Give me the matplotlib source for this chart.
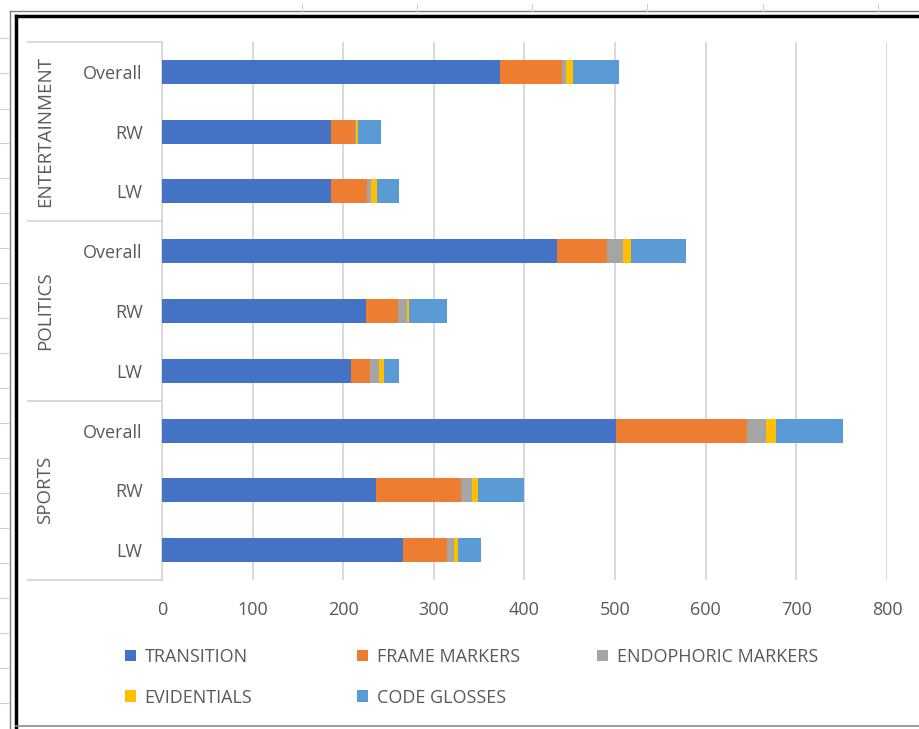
import matplotlib.pyplot as plt
from matplotlib.lines import Line2D

plt.rcParams['font.family'] = ['Open Sans', 'DejaVu Sans']

# Counts per section and orientation, listed top row first
groups = ['ENTERTAINMENT', 'POLITICS', 'SPORTS']
rows = ['Overall', 'RW', 'LW'] * 3
transition = [373, 187, 186, 436, 225, 209, 501, 236, 266]
frame_markers = [68, 26, 40, 55, 35, 21, 144, 94, 49]
endophoric = [5, 1, 5, 18, 10, 9, 21, 12, 7]
evidentials = [7, 2, 6, 9, 3, 6, 11, 7, 5]
code_glosses = [51, 26, 24, 60, 42, 17, 75, 51, 25]

series = [
    ('TRANSITION', transition, '#4472C4'),
    ('FRAME MARKERS', frame_markers, '#ED7D31'),
    ('ENDOPHORIC MARKERS', endophoric, '#A5A5A5'),
    ('EVIDENTIALS', evidentials, '#FFC000'),
    ('CODE GLOSSES', code_glosses, '#5B9BD5'),
]

txt = '#595959'
grid = '#d9d9d9'

W, H = 920, 729
fig = plt.figure(figsize=(W / 100, H / 100), dpi=100)
ax = fig.add_axes([162 / W, 1 - 580 / H, 725 / W, 538 / H])

ypos = list(range(len(rows)))
left = [0] * len(rows)
handles = {}
for name, vals, col in series:
    b = ax.barh(ypos, vals, left=left, height=0.4, color=col, label=name, zorder=3)
    handles[name] = b
    left = [l + v for l, v in zip(left, vals)]

ax.set_xlim(0, 800)
ax.set_ylim(8.5, -0.5)
ax.set_xticks(range(0, 801, 100))
ax.set_yticks(ypos)
ax.set_yticklabels(rows)
ax.tick_params(axis='x', length=0, pad=15, labelsize=13, labelcolor=txt)
ax.tick_params(axis='y', length=0, pad=14, labelsize=13, labelcolor=txt)
ax.grid(axis='x', color=grid, lw=1.4, zorder=0)
for s in ['top', 'right', 'bottom']:
    ax.spines[s].set_visible(False)
ax.spines['left'].set_color(grid)
ax.spines['left'].set_linewidth(1.4)

# multi-level category axis: separators and rotated group names
tr = ax.get_yaxis_transform()
box_x = (28 - 162) / 725
for yb in [-0.5, 2.5, 5.5, 8.5]:
    ax.plot([box_x, 0], [yb, yb], color=grid, lw=1.4, transform=tr, clip_on=False)
lab_x = (45 - 162) / 725
for i, g in enumerate(groups):
    ax.text(lab_x, 3 * i + 1, g, rotation=90, ha='center', va='center',
            fontsize=13.5, color=txt, transform=tr)

# legend laid out in three fixed columns
cols = [(133, ['TRANSITION', 'EVIDENTIALS']),
        (365, ['FRAME MARKERS', 'CODE GLOSSES']),
        (605, ['ENDOPHORIC MARKERS'])]
for x, names in cols:
    leg = fig.legend([handles[n] for n in names], names, loc='upper left',
                     bbox_to_anchor=(x / W - 0.009, 1 - 648 / H), frameon=False,
                     fontsize=13, labelcolor=txt, handlelength=0.6, handleheight=0.6,
                     handletextpad=0.5, labelspacing=1.25, borderpad=0, borderaxespad=0)

# worksheet frame around the chart
def fline(x0, y0, x1, y1, **kw):
    fig.add_artist(Line2D([x0 / W, x1 / W], [1 - y0 / H, 1 - y1 / H], **kw))

fline(10, 11, W, 11, color='#7f7f7f', lw=1)
fline(10, 11, 10, H, color='#7f7f7f', lw=1)
fline(16, 16, W, 16, color='black', lw=2.5)
fline(16, 16, 16, 727, color='black', lw=2.5)
fline(16, 726, W, 726, color='#8c8c8c', lw=1.2)
for y in [38, 73, 109, 143, 178, 213, 248, 283, 318, 353, 388, 423, 458, 493,
          528, 563, 598, 633, 668, 703]:
    fline(0, y, 9, y, color='#d0d0d0', lw=0.8)
for x in [302, 417, 532, 647, 763, 878]:
    fline(x, 4, x, 11, color='#d0d0d0', lw=0.8)

fig.savefig('out.png', dpi=100)
